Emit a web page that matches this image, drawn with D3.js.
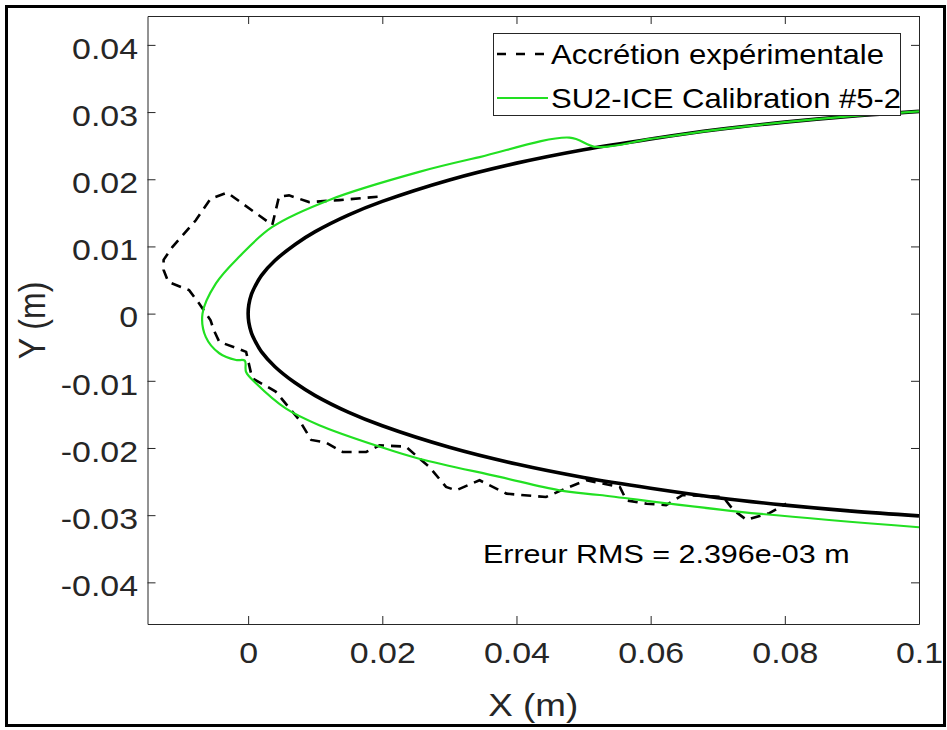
<!DOCTYPE html>
<html>
<head>
<meta charset="utf-8">
<script src="https://cdn.jsdelivr.net/npm/d3@7"></script>
<style>
  html, body { margin: 0; padding: 0; background: #fff; }
  svg { display: block; font-family: "Liberation Sans", Arial, Helvetica, sans-serif; }
</style>
</head>
<body>
<svg id="chart" width="947" height="730"></svg>
<script>
// Clean leading-edge contour, upper surface from x = 0.1 to the nose, then lower surface (m)
const airfoilX = [0.1, 0.09, 0.08, 0.07, 0.06, 0.05, 0.04, 0.03, 0.02, 0.015, 0.01, 0.007, 0.004, 0.002, 0.001, 0.0005, 0.0001, 0,
                  0.0001, 0.0005, 0.001, 0.002, 0.004, 0.007, 0.01, 0.015, 0.02, 0.03, 0.04, 0.05, 0.06, 0.07, 0.08, 0.09, 0.1];
const airfoilY = [0.0301, 0.0294, 0.0285, 0.0274, 0.0260, 0.0244, 0.0224, 0.0199, 0.0167, 0.0147, 0.0122, 0.0103, 0.0079, 0.0057, 0.0040, 0.0029, 0.0013, 0,
                  -0.0013, -0.0029, -0.0040, -0.0057, -0.0079, -0.0103, -0.0122, -0.0147, -0.0167, -0.0199, -0.0224, -0.0244, -0.0260, -0.0274, -0.0285, -0.0294, -0.0301];

// Measured ice accretion contour (m)
const expX = [0.0193, 0.0136, 0.0091, 0.0061, 0.0046, 0.0036, -0.0031, -0.0056, -0.0078, -0.0113, -0.0126, -0.0126, -0.0119, -0.0088, -0.0073,
              -0.0056, -0.0051, -0.0043, -0.0013, -0.0003, 0.0006, 0.0041, 0.0076, 0.0094, 0.0116, 0.0141, 0.0176, 0.0196, 0.0235, 0.0250,
              0.0270, 0.0295, 0.0310, 0.0345, 0.0385, 0.0444, 0.0474, 0.0504, 0.0554, 0.0564, 0.0594, 0.0623, 0.0648, 0.0708, 0.0723,
              0.0743, 0.0777, 0.0802];
const expY = [0.0174, 0.0169, 0.0166, 0.0176, 0.0174, 0.0132, 0.0180, 0.0171, 0.0139, 0.0099, 0.0080, 0.0065, 0.0047, 0.0035, 0.0015,
              -0.0010, -0.0025, -0.0042, -0.0053, -0.0057, -0.0096, -0.0116, -0.0158, -0.0188, -0.0192, -0.0206, -0.0206, -0.0196, -0.0198, -0.0211,
              -0.0228, -0.0258, -0.0263, -0.0248, -0.0268, -0.0273, -0.0260, -0.0248, -0.0258, -0.0278, -0.0283, -0.0285, -0.0270, -0.0273, -0.0292,
              -0.0307, -0.0297, -0.0283];

// SU2-ICE predicted ice contour (m)
const simX = [0.1, 0.09, 0.08, 0.07, 0.06, 0.0519, 0.0479, 0.0345, 0.0255, 0.0123, 0.0036, -0.0013, -0.0048, -0.0068,
              -0.0063, -0.0043, -0.0018, -0.0005, -0.0003, 0.0012, 0.0056, 0.0106, 0.0196, 0.0255, 0.0375, 0.0464, 0.0524, 0.0733, 0.1];
const simY = [0.0301, 0.0294, 0.0285, 0.0274, 0.0260, 0.0248, 0.0262, 0.0233, 0.0211, 0.0170, 0.0129, 0.0085, 0.0045, 0.0000,
              -0.0035, -0.0059, -0.0069, -0.0070, -0.0087, -0.0104, -0.0141, -0.0166, -0.0198, -0.0216, -0.0243, -0.0263, -0.0270, -0.0295, -0.0318];

const xTickValues = [0, 0.02, 0.04, 0.06, 0.08, 0.1];
const yTickValues = [-0.04, -0.03, -0.02, -0.01, 0, 0.01, 0.02, 0.03, 0.04];
const xDomain = [-0.015, 0.1];
const yDomain = [-0.0462, 0.0443];
const seriesNames = ["Accrétion expérimentale", "SU2-ICE Calibration #5-2"];
const xTitle = "X (m)";
const yTitle = "Y (m)";
const rmsText = "Erreur RMS = 2.396e-03 m";

// ---- layout ----
const svg = d3.select("#chart");
const box = { left: 147.5, right: 919, top: 16, bottom: 624 };
const SX = 1.15;                 // horizontal glyph stretch
const axisColor = "#262626";
const green = "#22e022";

const x = d3.scaleLinear().domain(xDomain).range([box.left, box.right]);
const y = d3.scaleLinear().domain(yDomain).range([box.bottom, box.top]);

const fmt = d => (d === 0 ? "0" : String(+d.toFixed(3)));

// outer frame
svg.append("rect")
  .attr("x", 6.5).attr("y", 6.5).attr("width", 938).attr("height", 719)
  .attr("fill", "#fff").attr("stroke", "#000").attr("stroke-width", 3);

// plot background
svg.append("rect")
  .attr("x", box.left).attr("y", box.top)
  .attr("width", box.right - box.left).attr("height", box.bottom - box.top)
  .attr("fill", "#fff");

svg.append("clipPath").attr("id", "plotClip")
  .append("rect")
  .attr("x", box.left).attr("y", box.top)
  .attr("width", box.right - box.left).attr("height", box.bottom - box.top);

const tick = 8;

function styleAxis(g, labelFont) {
  g.select(".domain").attr("stroke", axisColor).attr("stroke-width", 1);
  g.selectAll(".tick line").attr("stroke", axisColor).attr("stroke-width", 1);
  g.selectAll(".tick text")
    .attr("fill", axisColor)
    .attr("font-size", labelFont)
    .attr("font-family", "Liberation Sans, Arial, Helvetica, sans-serif");
}

// left axis
const gLeft = svg.append("g")
  .attr("transform", `translate(${box.left},0)`)
  .call(d3.axisLeft(y).tickValues(yTickValues).tickFormat(fmt).tickSizeInner(-tick).tickSizeOuter(0).tickPadding(9.5));
styleAxis(gLeft, 29.5);
gLeft.selectAll(".tick text")
  .attr("dy", "0.45em")
  .attr("x", -9.5 / SX)
  .attr("transform", `scale(${SX},1)`);

// bottom axis
const gBottom = svg.append("g")
  .attr("transform", `translate(0,${box.bottom})`)
  .call(d3.axisBottom(x).tickValues(xTickValues).tickFormat(fmt).tickSizeInner(-tick).tickSizeOuter(0).tickPadding(18));
styleAxis(gBottom, 29.5);
gBottom.selectAll(".tick text")
  .attr("dy", "0.71em")
  .attr("transform", `scale(${SX},1)`);

// mirrored top / right axes (ticks only)
const gTop = svg.append("g")
  .attr("transform", `translate(0,${box.top})`)
  .call(d3.axisTop(x).tickValues(xTickValues).tickFormat("").tickSizeInner(-tick).tickSizeOuter(0));
styleAxis(gTop, 0);
const gRight = svg.append("g")
  .attr("transform", `translate(${box.right},0)`)
  .call(d3.axisRight(y).tickValues(yTickValues).tickFormat("").tickSizeInner(-tick).tickSizeOuter(0));
styleAxis(gRight, 0);

// curves
const plot = svg.append("g").attr("clip-path", "url(#plotClip)");
const smooth = d3.line().x(d => x(d[0])).y(d => y(d[1])).curve(d3.curveCatmullRom.alpha(0.5));
const straight = d3.line().x(d => x(d[0])).y(d => y(d[1]));

const airfoil = airfoilX.map((v, i) => [v, airfoilY[i]]);
const experiment = expX.map((v, i) => [v, expY[i]]);
const simulation = simX.map((v, i) => [v, simY[i]]);

plot.append("path").datum(airfoil)
  .attr("d", smooth).attr("fill", "none").attr("stroke", "#000").attr("stroke-width", 3.6)
  .attr("stroke-linejoin", "round");

plot.append("path").datum(experiment)
  .attr("d", straight).attr("fill", "none").attr("stroke", "#000").attr("stroke-width", 2.6)
  .attr("stroke-dasharray", "10,7");

plot.append("path").datum(simulation)
  .attr("d", smooth).attr("fill", "none").attr("stroke", green).attr("stroke-width", 2.2)
  .attr("stroke-linejoin", "round");

// axis titles
svg.append("text")
  .attr("transform", `translate(${(box.left + box.right) / 2},716) scale(${SX},1)`)
  .attr("text-anchor", "middle").attr("font-size", 32).attr("fill", axisColor)
  .text(xTitle);

svg.append("text")
  .attr("transform", `translate(45,320.5) rotate(-90) scale(1,${SX})`)
  .attr("text-anchor", "middle").attr("font-size", 32).attr("fill", axisColor)
  .text(yTitle);

// RMS annotation
svg.append("text")
  .attr("transform", `translate(483,563) scale(${SX},1)`)
  .attr("font-size", 26.5).attr("fill", "#000")
  .text(rmsText);

// legend
const leg = svg.append("g");
leg.append("rect")
  .attr("x", 493.5).attr("y", 33.5).attr("width", 407).attr("height", 82)
  .attr("fill", "#fff").attr("stroke", axisColor).attr("stroke-width", 1);
const legendRows = [
  { name: seriesNames[0], stroke: "#000", dash: "9,10", width: 2.6, cy: 54 },
  { name: seriesNames[1], stroke: green, dash: null, width: 2.2, cy: 98 }
];
legendRows.forEach(r => {
  leg.append("line")
    .attr("x1", 497).attr("x2", 548).attr("y1", r.cy).attr("y2", r.cy)
    .attr("stroke", r.stroke).attr("stroke-width", r.width)
    .attr("stroke-dasharray", r.dash);
  leg.append("text")
    .attr("transform", `translate(551,${r.cy + 10}) scale(${SX},1)`)
    .attr("font-size", 27).attr("fill", "#000")
    .text(r.name);
});
</script>
</body>
</html>
